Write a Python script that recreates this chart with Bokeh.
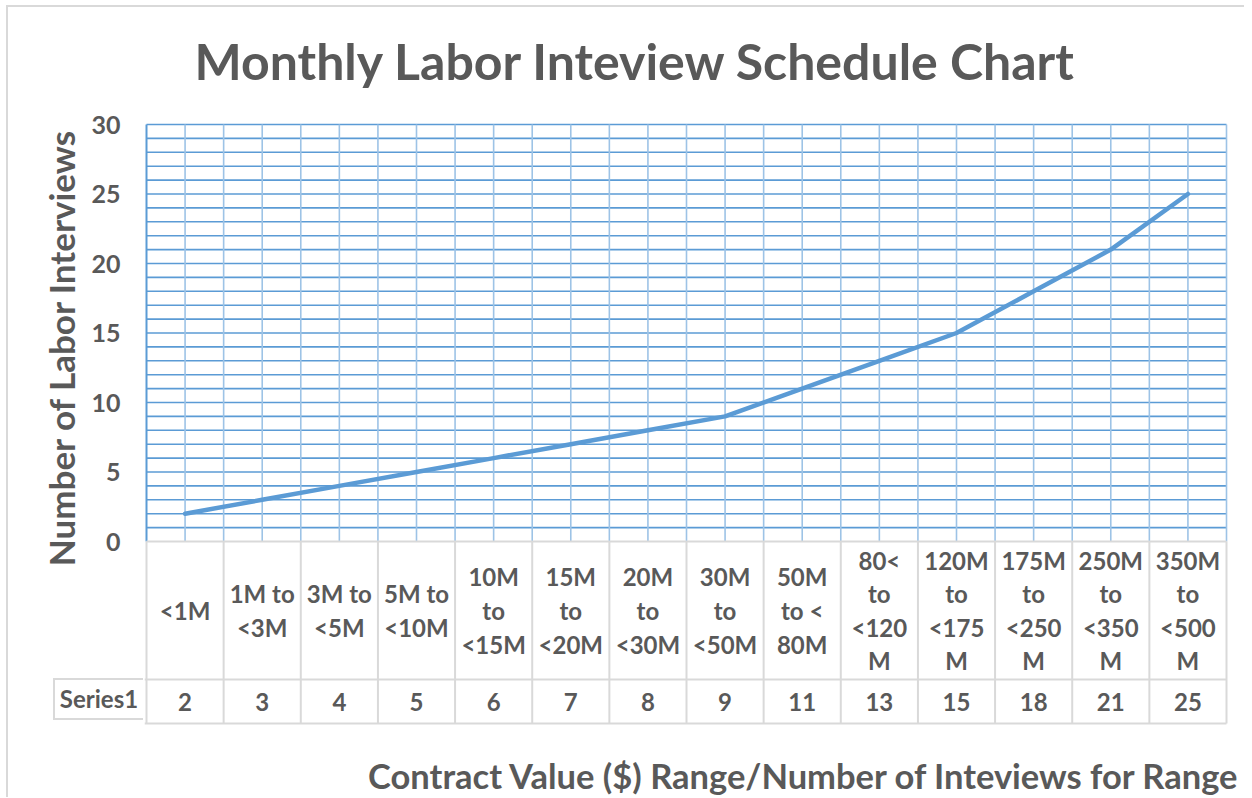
from bokeh.plotting import figure
from bokeh.models import Range1d, FixedTicker, Div
from bokeh.layouts import row, column
from bokeh.embed import file_html
from bokeh.resources import INLINE
from bokeh.core.properties import value

# ---- data ----
categories = ["<1M", "1M to\n<3M", "3M to\n<5M", "5M to\n<10M", "10M\nto\n<15M",
              "15M\nto\n<20M", "20M\nto\n<30M", "30M\nto\n<50M", "50M\nto <\n80M",
              "80<\nto\n<120\nM", "120M\nto\n<175\nM", "175M\nto\n<250\nM",
              "250M\nto\n<350\nM", "350M\nto\n<500\nM"]
series_name = "Series1"
values = [2, 3, 4, 5, 6, 7, 8, 9, 11, 13, 15, 18, 21, 25]
y_ticks = [0, 5, 10, 15, 20, 25, 30]
y_max = 30
title_text = "Monthly Labor Inteview Schedule Chart"
y_title = "Number of Labor Interviews"
x_title = "Contract Value ($) Range/Number of Inteviews for Range"

FONT = "Lato"
TXT = "#595959"
BLUE = "#5B9BD5"
LBLUE = "#9DC3E6"
GRAY = "#D9D9D9"
n = len(categories)
xs = [i + 0.5 for i in range(n)]
cat_w = 1080 / n          # px per category
px_y = 417 / y_max        # px per interview


def ux(px):
    """px offset from the left of the category area -> x units"""
    return px / cat_w


def uy(px):
    """px offset below the value axis (value 0) -> y units"""
    return -px / px_y


def txt(fig, x, y, t, size, **kw):
    fig.text(x=x, y=y, text=t, text_font=value(FONT), text_font_size=size,
             text_font_style="bold", text_color=TXT, **kw)


def bare(fig):
    fig.outline_line_color = None
    fig.grid.visible = False


# ---- main panel: plot area, data table, titles ----
main = figure(width=1100, height=790, x_range=Range1d(ux(-2), ux(1098)),
              y_range=Range1d(uy(256), uy(-534)), output_backend="svg", toolbar_location=None,
              x_axis_location=None, y_axis_location=None,
              min_border_left=0, min_border_right=0, min_border_top=0, min_border_bottom=0)
bare(main)
hl = list(range(1, y_max + 1))
main.segment(x0=[0] * len(hl), y0=hl, x1=[n] * len(hl), y1=hl, line_color=BLUE, line_width=1.6)
half = [k / 2 for k in range(1, 2 * n)] + [n]
main.segment(x0=half, y0=[0] * len(half), x1=half, y1=[y_max] * len(half),
             line_color=LBLUE, line_width=1.6)
main.segment(x0=[0], y0=[0], x1=[0], y1=[y_max], line_color=BLUE, line_width=2)

bnd = list(range(n + 1))
row_y, bot_y = uy(138), uy(182)
main.segment(x0=bnd, y0=[bot_y] * len(bnd), x1=bnd, y1=[0] * len(bnd), line_color=GRAY, line_width=2)
main.segment(x0=[0, ux(-2), ux(-2)], y0=[0, row_y, bot_y], x1=[n, n, n], y1=[0, row_y, bot_y],
             line_color=GRAY, line_width=2)
txt(main, xs, [uy(69)] * n, categories, "24px", text_align="center", text_baseline="middle",
    text_line_height=1.16)
txt(main, xs, [uy(160)] * n, [str(v) for v in values], "24px", text_align="center",
    text_baseline="middle")
main.line(x=xs, y=values, line_color=BLUE, line_width=4.5, line_cap="round", line_join="round")
txt(main, [ux(48)], [uy(-481)], [title_text], "50px", text_align="left", text_baseline="middle")
txt(main, [ux(658)], [uy(234)], [x_title], "34.5px", text_align="center", text_baseline="middle")

# ---- left: value axis ----
yfig = figure(width=136, height=563, x_range=Range1d(0, 1), y_range=Range1d(uy(29), y_max + 1e-4),
              output_backend="svg", toolbar_location=None, x_axis_location=None,
              min_border_left=134, min_border_right=0, min_border_top=117, min_border_bottom=0)
bare(yfig)
ax = yfig.yaxis[0]
ax.ticker = FixedTicker(ticks=y_ticks)
ax.major_label_text_font = FONT
ax.major_label_text_font_size = "25px"
ax.major_label_text_font_style = "bold"
ax.major_label_text_color = TXT
ax.major_tick_line_color = None
ax.minor_tick_line_color = None
ax.axis_line_color = None
ax.major_label_standoff = 16
ax.axis_label = y_title
ax.axis_label_text_font = FONT
ax.axis_label_text_font_size = "35px"
ax.axis_label_text_font_style = "bold"
ax.axis_label_text_color = TXT
ax.axis_label_standoff = 6

# ---- left: series name cell of the data table ----
cell_html = (
    '<div style="position:relative;width:136px;height:227px;">'
    '<div style="position:absolute;left:45px;top:108px;width:90px;height:42px;'
    'border-left:2px solid %s;border-top:2px solid %s;border-bottom:2px solid %s;'
    'display:flex;align-items:center;justify-content:center;'
    "font-family:'%s';font-weight:bold;font-size:24px;color:%s;\">%s</div></div>"
    % (GRAY, GRAY, GRAY, FONT, TXT, series_name)
)
sdiv = Div(text=cell_html, width=136, height=227, margin=(0, 0, 0, 0))

layout = row(column(yfig, sdiv, spacing=0), main, spacing=0,
             styles={"margin-left": "6px", "margin-top": "5px",
                     "border-left": "2px solid #D9D9D9", "border-top": "2px solid #D9D9D9"})
open("out.html", "w").write(file_html(layout, INLINE))
